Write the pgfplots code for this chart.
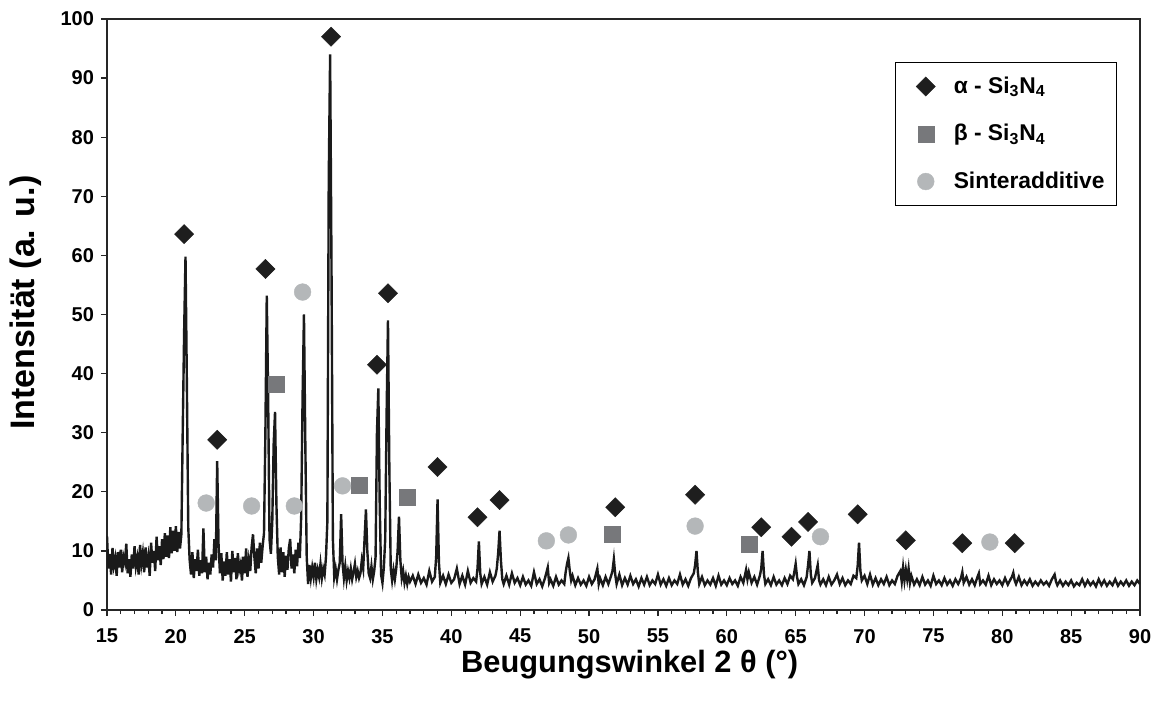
\documentclass[border=0pt]{standalone}
\usepackage{fontspec}
\setmainfont{Liberation Sans}
\usepackage{pgfplots}
\pgfplotsset{compat=1.18}
\definecolor{cAlpha}{HTML}{1E1E1E}
\definecolor{cBeta}{HTML}{77787B}
\definecolor{cSinter}{HTML}{B4B7B9}
\definecolor{cLine}{HTML}{1A1A1A}
\pgfplotsset{myleg/.style={legend image code/.code={\path[draw=none,fill=none] (-11pt,-5pt) rectangle (7pt,5pt); \draw[##1] plot coordinates {(0pt,0pt)};}}}
\begin{document}
\begin{tikzpicture}
\begin{axis}[
  at={(0pt,0pt)}, anchor=south west,
  scale only axis, width=516.5pt, height=295.5pt,
  xmin=15, xmax=90, ymin=0, ymax=100,
  xtick={15,20,...,90}, minor x tick num=4,
  ytick={0,10,...,100},
  xtick pos=left, ytick pos=left, tick align=outside,
  major tick length=3pt, minor tick length=2pt,
  axis line style={line width=0.75pt, black!85},
  every tick/.style={black!85, line width=0.6pt},
  /pgf/number format/assume math mode=true,
  tick label style={font=\fontsize{10}{12}\selectfont\bfseries},
  xticklabel style={yshift=-3pt},
  xlabel={Beugungswinkel 2 θ (°)},
  ylabel={Intensität (a. u.)},
  xlabel style={font=\fontsize{15.4}{18}\selectfont\bfseries, at={(axis description cs:0.506,-0.093)}, anchor=center},
  ylabel style={font=\fontsize{17}{20}\selectfont\bfseries, at={(axis description cs:-0.079,0.52)}, anchor=center},
  legend style={at={(axis description cs:0.763,0.927)}, anchor=north west, draw=black, line width=0.6pt,
    font=\fontsize{11.4}{13}\selectfont\bfseries, inner xsep=4pt, inner ysep=5pt, row sep=10pt,
    /tikz/every odd column/.append style={column sep=5pt}},
  legend cell align=left,
]
\addplot[cLine, line width=1.2pt, forget plot] coordinates {
(15.0,12.5)(15.1,7.0)(15.2,9.5)(15.3,6.0)(15.4,10.5)(15.5,7.5)(15.6,8.8)(15.7,5.8)(15.8,9.8)(15.9,7.2)
(16.0,10.2)(16.1,6.4)(16.2,9.0)(16.3,8.0)(16.4,11.2)(16.5,6.2)(16.6,8.6)(16.7,5.6)(16.8,9.4)(16.9,7.0)
(17.0,10.8)(17.1,7.4)(17.2,8.8)(17.3,6.0)(17.4,11.0)(17.5,7.8)(17.6,9.6)(17.7,6.4)(17.8,10.6)(17.9,7.2)
(18.0,9.0)(18.1,5.8)(18.2,11.4)(18.3,8.0)(18.4,10.0)(18.5,6.6)(18.6,12.4)(18.7,8.4)(18.8,10.8)(18.9,7.6)
(19.0,12.0)(19.1,8.6)(19.2,13.0)(19.3,9.0)(19.4,12.6)(19.5,8.8)(19.6,14.0)(19.7,9.6)(19.8,13.4)(19.9,10.0)
(20.0,14.2)(20.1,9.8)(20.2,13.2)(20.3,10.4)(20.4,12.8)(20.5,30.5)(20.6,47)(20.7,59.8)(20.8,38)(20.9,14)
(21.0,8.5)(21.1,6.0)(21.2,9.8)(21.3,5.4)(21.4,8.6)(21.5,6.6)(21.6,10.2)(21.7,5.8)(21.8,8.4)(21.9,6.2)
(22.0,13.8)(22.1,6.4)(22.2,9.0)(22.3,5.2)(22.4,8.0)(22.5,6.0)(22.6,9.4)(22.7,7.2)(22.8,12.0)(22.9,8.4)
(23.0,25.2)(23.1,11.0)(23.2,6.2)(23.3,9.6)(23.4,5.0)(23.5,8.2)(23.6,5.8)(23.7,9.8)(23.8,6.0)(23.9,8.6)
(24.0,4.8)(24.1,10.0)(24.2,6.4)(24.3,8.8)(24.4,5.2)(24.5,9.6)(24.6,6.8)(24.7,7.8)(24.8,5.0)(24.9,9.0)
(25.0,6.2)(25.1,10.4)(25.2,5.6)(25.3,8.4)(25.4,6.6)(25.5,10.6)(25.6,12.8)(25.7,9.0)(25.8,6.2)(25.9,10.4)
(26.0,7.0)(26.1,11.4)(26.2,8.0)(26.3,10.8)(26.4,13.0)(26.5,30)(26.6,53.2)(26.7,36)(26.8,12)(26.9,9.5)
(27.0,15)(27.1,28)(27.2,33.5)(27.3,18)(27.4,9.0)(27.5,6.0)(27.6,10.6)(27.7,6.4)(27.8,9.8)(27.9,5.6)
(28.0,9.2)(28.1,6.8)(28.2,10.4)(28.3,12.0)(28.4,7.0)(28.5,9.4)(28.6,6.2)(28.7,10.2)(28.8,7.4)(28.9,11.4)
(29.0,8.8)(29.1,16)(29.2,36)(29.3,50)(29.4,28)(29.5,9.0)(29.6,4.4)(29.7,7.6)(29.8,5.4)(29.9,7.2)
(30.0,5.6)(30.1,8.0)(30.2,5.2)(30.3,6.8)(30.4,5.6)(30.5,7.8)(30.6,5.4)(30.7,7.0)(30.8,6.0)(30.9,9.0)
(31.0,15)(31.1,73)(31.2,94)(31.3,58)(31.4,12)(31.5,5.6)(31.6,7.0)(31.7,5.2)(31.8,6.8)(31.9,8.0)
(32.0,16.2)(32.1,8.0)(32.2,5.4)(32.3,7.4)(32.4,5.0)(32.5,6.6)(32.6,5.4)(32.7,7.0)(32.8,5.2)(32.9,6.4)
(33.0,7.8)(33.1,5.6)(33.2,6.6)(33.3,5.4)(33.4,6.2)(33.5,8.4)(33.6,7.0)(33.7,12)(33.8,17.0)(33.9,10.0)
(34.0,6.2)(34.1,5.4)(34.2,7.4)(34.3,5.2)(34.4,6.6)(34.5,9.0)(34.6,30)(34.7,37.5)(34.8,18)(34.9,6.0)
(35.0,4.6)(35.1,7.2)(35.2,12)(35.3,33)(35.4,49)(35.5,24)(35.6,7.0)(35.7,5.0)(35.8,6.8)(35.9,5.2)
(36.0,7.0)(36.1,10)(36.2,15.8)(36.3,8.4)(36.4,5.4)(36.5,6.6)(36.6,4.6)(36.7,5.8)(36.8,4.4)(36.9,5.6)
(37.0,4.8)(37.2,5.8)(37.4,4.4)(37.6,6.0)(37.8,4.6)(38.0,5.4)(38.2,4.3)(38.4,6.6)(38.6,4.8)(38.8,5.6)
(38.9,9.0)(39.0,18.7)(39.1,8.0)(39.2,4.6)(39.4,5.8)(39.6,4.4)(39.8,6.0)(40.0,4.6)(40.2,5.2)(40.4,7.0)
(40.6,4.4)(40.8,5.8)(41.0,4.3)(41.2,6.6)(41.4,4.6)(41.6,5.4)(41.8,4.8)(41.9,7.0)(42.0,11.6)(42.1,6.2)
(42.2,4.4)(42.4,5.6)(42.6,4.3)(42.8,6.4)(43.0,4.8)(43.2,5.8)(43.3,7.0)(43.4,9.6)(43.5,13.4)(43.6,8.4)
(43.7,5.2)(43.8,4.4)(44.0,5.8)(44.2,4.3)(44.4,6.2)(44.6,4.6)(44.8,5.4)(45.0,4.2)(45.2,5.6)(45.4,4.3)
(45.6,5.0)(45.8,4.1)(46.0,6.4)(46.2,4.4)(46.4,5.2)(46.6,4.0)(46.8,5.4)(47.0,7.2)(47.1,4.6)(47.2,5.2)
(47.4,4.1)(47.6,5.6)(47.8,4.3)(48.0,5.0)(48.2,4.4)(48.3,6.4)(48.4,7.8)(48.5,8.8)(48.6,6.6)(48.7,5.0)
(48.8,5.8)(49.0,4.2)(49.2,5.4)(49.4,4.3)(49.6,5.0)(49.8,4.1)(50.0,5.6)(50.2,4.4)(50.4,5.2)(50.6,7.0)
(50.7,4.4)(50.8,5.4)(51.0,4.2)(51.2,5.6)(51.4,4.4)(51.6,5.8)(51.7,6.6)(51.8,8.6)(51.9,6.0)(52.0,4.4)
(52.2,6.0)(52.4,4.2)(52.6,5.4)(52.8,4.3)(53.0,5.8)(53.2,4.4)(53.4,5.2)(53.6,4.0)(53.8,5.4)(54.0,4.3)
(54.2,5.6)(54.4,4.2)(54.6,5.0)(54.8,4.4)(55.0,6.0)(55.2,4.3)(55.4,5.2)(55.6,4.1)(55.8,5.4)(56.0,4.2)
(56.2,5.0)(56.4,4.4)(56.6,6.0)(56.8,4.3)(57.0,5.2)(57.2,4.1)(57.4,5.4)(57.6,6.2)(57.7,7.6)(57.8,10.0)
(57.9,6.4)(58.0,4.4)(58.2,5.6)(58.4,4.2)(58.6,5.0)(58.8,4.3)(59.0,5.4)(59.2,4.1)(59.4,5.8)(59.6,4.3)
(59.8,5.0)(60.0,4.2)(60.2,5.4)(60.4,4.4)(60.6,5.0)(60.8,4.1)(61.0,5.6)(61.2,4.6)(61.4,6.8)(61.5,5.2)
(61.6,6.4)(61.8,4.6)(62.0,5.6)(62.2,4.3)(62.4,5.8)(62.5,7.0)(62.6,10.0)(62.7,6.0)(62.8,4.4)(63.0,5.2)
(63.2,4.2)(63.4,5.6)(63.6,4.3)(63.8,5.0)(64.0,4.2)(64.2,5.4)(64.4,4.4)(64.6,5.8)(64.8,5.2)(64.9,6.4)
(65.0,7.8)(65.1,5.6)(65.2,4.4)(65.4,5.2)(65.6,4.2)(65.8,5.6)(65.9,7.6)(66.0,10.0)(66.1,6.0)(66.2,4.6)
(66.4,5.4)(66.6,7.6)(66.7,5.0)(66.8,4.3)(67.0,5.2)(67.2,4.2)(67.4,5.6)(67.6,4.3)(67.8,5.0)(68.0,6.0)
(68.2,4.4)(68.4,5.4)(68.6,4.2)(68.8,5.0)(69.0,4.4)(69.2,5.8)(69.4,5.4)(69.5,7.4)(69.6,11.4)(69.7,6.6)
(69.8,5.0)(70.0,5.8)(70.2,4.4)(70.4,6.0)(70.6,4.3)(70.8,5.4)(71.0,4.2)(71.2,5.2)(71.4,4.4)(71.6,5.6)
(71.8,4.2)(72.0,5.0)(72.2,4.4)(72.4,5.8)(72.6,6.6)(72.7,4.8)(72.8,7.2)(72.9,5.0)(73.0,6.8)(73.1,5.2)
(73.2,7.0)(73.3,4.6)(73.4,5.8)(73.6,4.3)(73.8,5.2)(74.0,4.2)(74.2,5.6)(74.4,4.3)(74.6,5.0)(74.8,4.1)
(75.0,5.8)(75.2,4.4)(75.4,5.0)(75.6,4.2)(75.8,5.4)(76.0,4.3)(76.2,5.0)(76.4,4.1)(76.6,5.2)(76.8,4.4)
(77.0,5.4)(77.1,6.4)(77.2,4.6)(77.4,5.6)(77.6,4.3)(77.8,5.2)(78.0,4.2)(78.2,5.6)(78.3,6.2)(78.4,4.4)
(78.6,5.0)(78.8,4.3)(79.0,5.8)(79.2,4.2)(79.4,5.2)(79.6,4.4)(79.8,5.0)(80.0,4.2)(80.2,5.4)(80.4,4.3)
(80.6,5.2)(80.7,5.6)(80.8,6.3)(80.9,5.0)(81.0,4.4)(81.2,5.6)(81.4,4.2)(81.6,5.0)(81.8,4.3)(82.0,5.2)
(82.2,4.1)(82.4,4.8)(82.6,4.2)(82.8,5.0)(83.0,4.3)(83.2,4.8)(83.4,4.1)(83.6,5.2)(83.8,6.0)(83.9,4.8)
(84.0,4.2)(84.2,5.0)(84.4,4.1)(84.6,4.8)(84.8,4.2)(85.0,5.0)(85.2,4.0)(85.4,4.6)(85.6,4.2)(85.8,5.2)
(86.0,4.1)(86.2,5.0)(86.4,4.2)(86.6,4.8)(86.8,4.0)(87.0,5.2)(87.2,4.2)(87.4,5.0)(87.6,4.1)(87.8,4.8)
(88.0,4.2)(88.2,5.2)(88.4,4.1)(88.6,4.8)(88.8,4.2)(89.0,5.0)(89.2,4.1)(89.4,4.8)(89.6,4.2)(89.8,5.0)
(90.0,4.4)
};
\addplot[only marks, mark=square*, mark size=3.4pt, mark options={rotate=45, fill=cAlpha, draw=cAlpha, line width=0.2pt}, myleg]
coordinates {(20.6,63.6)(23.0,28.8)(26.5,57.7)(31.27,97.0)(34.6,41.5)(35.4,53.6)(39.0,24.2)(41.9,15.7)(43.5,18.6)(51.9,17.4)(57.7,19.5)(62.5,14.0)(64.7,12.4)(65.9,14.9)(69.5,16.2)(73.0,11.8)(77.1,11.3)(80.9,11.3)};
\addlegendentry{α - Si\textsubscript{3}N\textsubscript{4}}
\addplot[only marks, mark=square*, mark size=4.0pt, mark options={fill=cBeta, draw=cBeta, line width=0.2pt}, myleg]
coordinates {(27.3,38.2)(33.3,21.2)(36.8,19.1)(51.7,12.8)(61.6,11.2)};
\addlegendentry{β - Si\textsubscript{3}N\textsubscript{4}}
\addplot[only marks, mark=*, mark size=4.2pt, mark options={fill=cSinter, draw=cSinter, line width=0.2pt}, myleg]
coordinates {(22.2,18.1)(25.5,17.6)(28.6,17.6)(29.2,53.8)(32.1,21.0)(46.9,11.7)(48.5,12.7)(57.7,14.2)(66.8,12.4)(79.1,11.5)};
\addlegendentry{Sinteradditive}
\end{axis}
\pgfresetboundingbox
\path (-53.5pt,-45.5pt) rectangle (523.5pt,305pt);
\end{tikzpicture}
\end{document}
